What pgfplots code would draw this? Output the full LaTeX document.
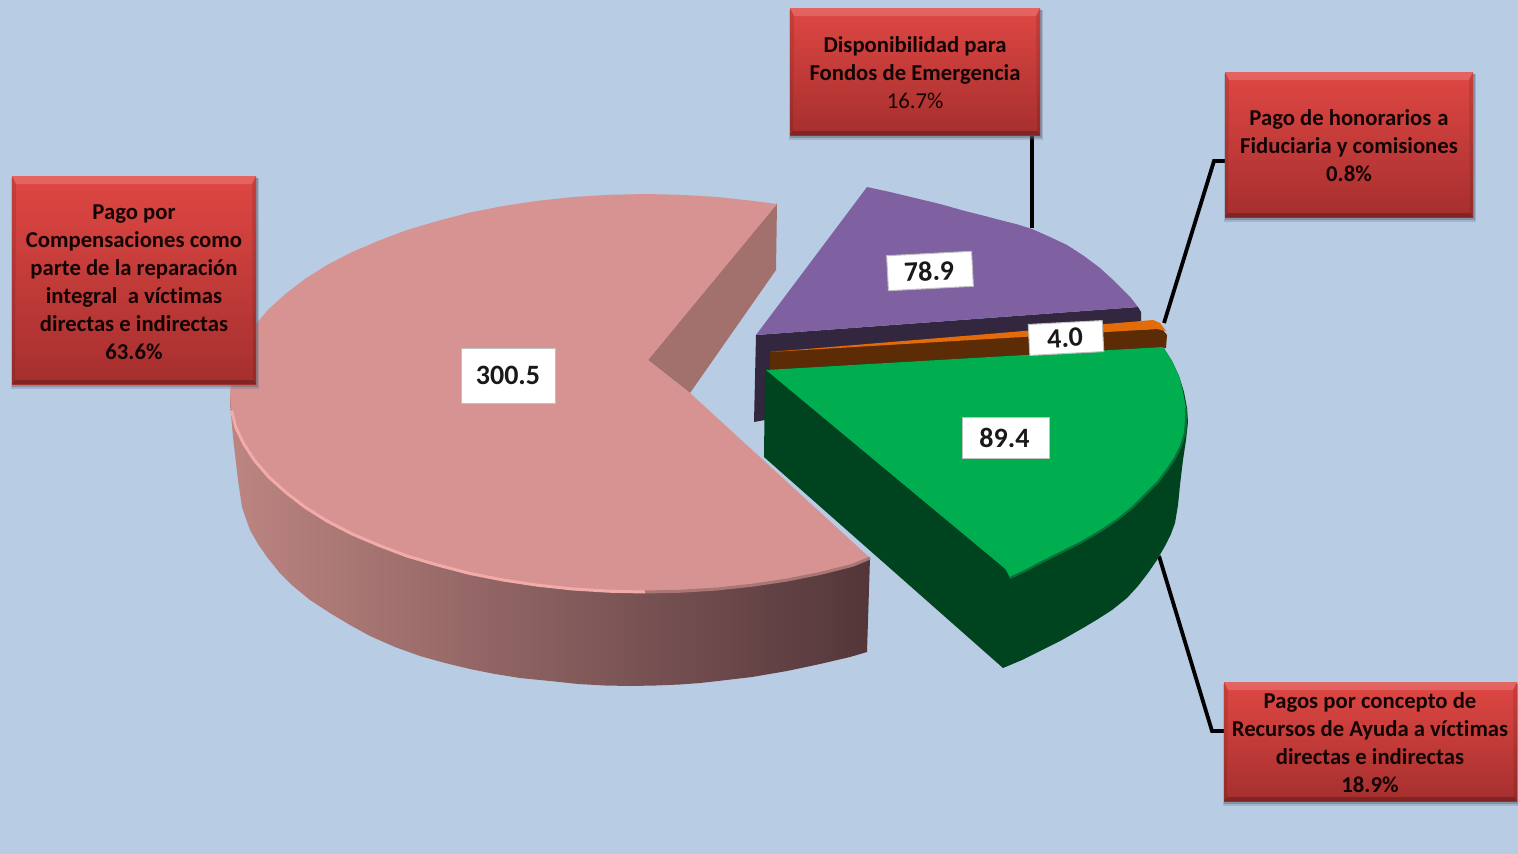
\documentclass[border=0pt]{standalone}
\usepackage{pgfplots}
\pgfplotsset{compat=1.18}
\usepackage{fontspec}
\setmainfont{Carlito}[Ligatures=NoCommon]
\definecolor{bg}{HTML}{B8CCE4}
\definecolor{pinktop}{HTML}{D79392}
\definecolor{pinkwallL}{HTML}{BC8581}
\definecolor{pinkwallR}{HTML}{53363A}
\definecolor{pinkinner}{HTML}{A3716D}
\definecolor{pinkrim}{HTML}{F3ABA8}
\definecolor{pinkrimR}{HTML}{A87775}
\definecolor{purpletop}{HTML}{7F60A0}
\definecolor{purplewall}{HTML}{33263F}
\definecolor{orangetop}{HTML}{E36C09}
\definecolor{brownwall}{HTML}{5C2C06}
\definecolor{greentop}{HTML}{00AE50}
\definecolor{greenwall}{HTML}{00431F}
\definecolor{greenedge}{HTML}{0A6F39}
\definecolor{boxT}{HTML}{DF4743}
\definecolor{boxB}{HTML}{A52F2E}
\definecolor{shadow}{HTML}{5E6A7C}
\definecolor{txt}{HTML}{140505}
\newcommand{\rbox}[4]{% x0 y0 x1 y1
  \addplot[fill=shadow,draw=none,opacity=.25] coordinates {(#1-1,#2+2) (#3+3,#2+2) (#3+3,#4+5) (#1-1,#4+5)} --cycle;
  \addplot[fill=shadow,draw=none,opacity=.45] coordinates {(#1,#2+2) (#3+2,#2+2) (#3+2,#4+3) (#1,#4+3)} --cycle;
  \addplot[draw=none,top color=boxT,bottom color=boxB] coordinates {(#1,#2) (#3,#2) (#3,#4) (#1,#4)} --cycle;
  \addplot[fill=white,opacity=.16,draw=none] coordinates {(#1,#2) (#3,#2) (#3-4,#2+8) (#1+4,#2+8)} --cycle;
  \addplot[fill=black,opacity=.22,draw=none] coordinates {(#1,#4) (#3,#4) (#3-3,#4-4) (#1+3,#4-4)} --cycle;
  \addplot[fill=black,opacity=.10,draw=none] coordinates {(#1,#2) (#1+4,#2+8) (#1+3,#4-4) (#1,#4)} --cycle;
  \addplot[fill=black,opacity=.10,draw=none] coordinates {(#3,#2) (#3-4,#2+8) (#3-3,#4-4) (#3,#4)} --cycle;
}
\begin{document}
\begin{tikzpicture}
\begin{axis}[width=1518pt,height=854pt,scale only axis,xmin=0,xmax=1518,ymin=0,ymax=854,y dir=reverse,hide axis]
% background
\addplot[fill=bg,draw=none] coordinates {(0,0) (1518,0) (1518,854) (0,854)} --cycle;
% leader lines
\addplot[black,line width=4pt] coordinates {(1032,135) (1032,228)};
\addplot[black,line width=3.8pt] coordinates {(1225,161) (1214,161) (1164,323)};
\addplot[black,line width=3.8pt] coordinates {(1224,731) (1212,731) (1159,556)};
% pink slice: outer wall
\addplot[draw=none,left color=pinkwallL,right color=pinkwallR] coordinates {
(230,393) (230,403) (233,437) (238,480) (242,507) (246,519) (250,530) (258,544) (267,557) (279,572) (293,586) (310,600) (330,613) (350,625) (370,636) (395,647) (420,656) (445,663) (470,669) (495,674) (520,678) (550,681) (578,684) (605,685.5) (630,686) (656,685.5) (680,684.5) (700,683) (718,681) (752,677) (787,671) (820,664) (850,657) (867,652) (870,558) (700,500) (300,400)} --cycle;
% pink slice: inner wall
\addplot[fill=pinkinner,draw=none] coordinates {(648,360) (777,203) (776,270) (690,393)} --cycle;
% pink slice: top
\addplot[fill=pinktop,draw=none] coordinates {
(777,204) (752.4,200.8) (717,197) (681.2,194.8) (645,194) (608.8,194.8) (573,197) (537.6,200.8) (503,206) (469.6,212.6) (437.5,221) (407,230) (378,241) (351.6,252.3) (327,265) (305,278.9) (286,293.5) (268.9,308.9) (255,325) (244.1,341.5) (236,358.4) (231.6,375.6) (230,393) (231.6,410.4) (236,428) (244.1,444.5) (255,461) (268.9,477.1) (286,492.5) (305,507.1) (327,521) (351.6,533.7) (378,545) (407,556) (437.5,565) (469.6,573.4) (503,580) (537.6,585.2) (573,589) (608.8,591.2) (645,592) (681.2,591.2) (717,589) (752.4,585.2) (787,580) (820.4,573.4) (852.5,565.3) (870,558) (690,393) (648,360)} --cycle;
% pink rim
\addplot[pinkrim,line width=3pt] coordinates {(231.6,410.4) (236,428) (244.1,444.5) (255,461) (268.9,477.1) (286,492.5) (305,507.1) (327,521) (351.6,533.7) (378,545) (407,556) (437.5,565) (469.6,573.4) (503,580) (537.6,585.2) (573,589) (608.8,591.2) (645,592)};
\addplot[pinkrimR,line width=3pt] coordinates {(645,592) (681.2,591.2) (717,589) (752.4,585.2) (787,580) (820.4,573.4) (852.5,565.3) (870,558)};
% purple slice
\addplot[fill=purplewall,draw=none] coordinates {(756,335) (1138,307) (1141,312) (1141,330) (800,405) (765,420) (754,422)} --cycle;
\addplot[fill=purpletop,draw=none] coordinates {(756,335) (867,187) (890,192) (915,198) (940,204) (965,211) (985,216) (1000,220) (1016,224) (1032,229) (1050,237) (1067,245) (1084,256) (1100,268) (1112,279) (1123,290) (1131,298) (1138,307)} --cycle;
% orange slice
\addplot[fill=brownwall,draw=none] coordinates {(770,351) (1154,329) (1162,329) (1167,335) (1166,348) (770,372)} --cycle;
\addplot[fill=orangetop,draw=none] coordinates {(770,352) (1000,333) (1153,320) (1160,323) (1166,331) (1157,329)} --cycle;
% green slice
\addplot[fill=greenwall,draw=none] coordinates {(765,370) (1163,347) (1172,361) (1179,376) (1184,392) (1187,408) (1188,422) (1186,440) (1183,460) (1180,485) (1178,505) (1175,523) (1171,534) (1165,546) (1157,560) (1148,573) (1138,586) (1127,598) (1112,610) (1098,619) (1083,628) (1062,640) (1040,651) (1022,660) (1003,668) (764,457)} --cycle;
\addplot[fill=greentop,draw=none] coordinates {(766,370) (1163,347) (1172,361) (1179,376) (1183,392) (1186,408) (1186,422) (1185,433) (1181,446) (1175,458) (1167,470) (1158,482) (1147,493) (1133,507) (1117,520) (1099,532) (1080,543) (1060,553) (1040,563) (1025,571) (1010,578) (1006,570) (1003,567)} --cycle;
\addplot[greenedge,line width=2.2pt] coordinates {(1186,408) (1186,422) (1185,433) (1181,446) (1175,458) (1167,470) (1158,482) (1147,493) (1133,507) (1117,520) (1099,532) (1080,543) (1060,553) (1040,563) (1025,571) (1010,578)};
% callout boxes
\rbox{790}{8}{1040}{135}
\rbox{1225}{72}{1473}{217}
\rbox{12}{176}{256}{384}
\rbox{1224}{682}{1517}{801}
% callout text
\node[font=\fontsize{22.7}{28}\selectfont\bfseries,text=txt,align=center,anchor=center] at (axis cs:915,72.5) {Disponibilidad\ para\\Fondos de Emergencia\\{\mdseries 16.7\%}};
\node[font=\fontsize{22.7}{28}\selectfont\bfseries,text=txt,align=center,anchor=center] at (axis cs:1349,145.5) {Pago de honorarios\ \hspace{1pt}a\\Fiduciaria y comisiones\\0.8\%};
\node[font=\fontsize{22.7}{28}\selectfont\bfseries,text=txt,align=center,anchor=center] at (axis cs:134,282) {Pago por\\Compensaciones como\\parte de la reparación\\integral\ \ a víctimas\\directas e indirectas\\63.6\%};
\node[font=\fontsize{22.7}{28}\selectfont\bfseries,text=txt,align=center,anchor=center] at (axis cs:1370,742.5) {Pagos por concepto de\\Recursos de Ayuda a víctimas\\directas e indirectas\\18.9\%};
% value labels
\node[fill=white,draw=black!25,line width=1pt,font=\fontsize{28}{30}\selectfont\bfseries,text=black!90,minimum width=94pt,minimum height=55pt,inner sep=0pt] at (axis cs:508,375.5) {\raisebox{-1.5pt}{300.5}};
\node[fill=white,draw=black!25,line width=1pt,font=\fontsize{28}{30}\selectfont\bfseries,text=black!90,minimum width=85pt,minimum height=35pt,inner sep=0pt,rotate=3] at (axis cs:930,271) {\hspace{-2pt}78.9};
\node[fill=white,draw=black!25,line width=1pt,font=\fontsize{28}{30}\selectfont\bfseries,text=black!90,minimum width=74pt,minimum height=31pt,inner sep=0pt,rotate=3] at (axis cs:1066,338) {\hspace{-2pt}4.0};
\node[fill=white,draw=black!25,line width=1pt,font=\fontsize{28}{30}\selectfont\bfseries,text=black!90,minimum width=87pt,minimum height=41pt,inner sep=0pt] at (axis cs:1006,437.5) {\hspace{-3pt}89.4};
\end{axis}
\end{tikzpicture}
\end{document}
